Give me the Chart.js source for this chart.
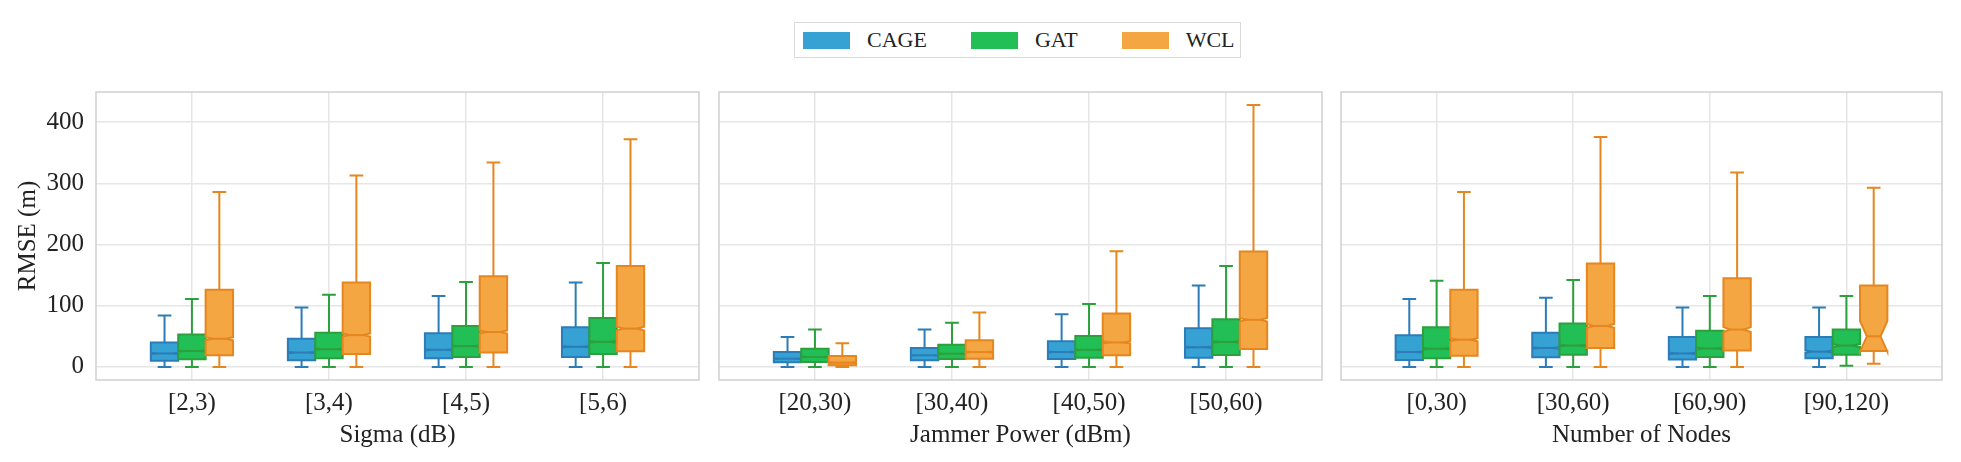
<!DOCTYPE html>
<html>
<head>
<meta charset="utf-8">
<script src="https://cdn.jsdelivr.net/npm/chart.js@4.4.1/dist/chart.umd.min.js"></script>
<style>
  body { margin: 0; background: #fff; width: 1961px; height: 462px; position: relative; overflow: hidden;
         font-family: "Liberation Serif", "Times New Roman", serif; color: #222; }
  canvas { position: absolute; top: 0; }
  #legend { position: absolute; left: 794px; top: 22px; height: 34px; border: 1.5px solid #d9d9d9;
            display: flex; align-items: center; padding: 0 5px 0 8px; background: #fff; }
  .item { display: flex; align-items: center; font-size: 22px; }
  .item + .item { margin-left: 44px; }
  .sw { width: 47px; height: 17px; margin-right: 17px; }
</style>
</head>
<body>
<div id="legend"></div>
<canvas id="c1" width="709" height="462" style="left:0;width:709px;height:462px"></canvas>
<canvas id="c2" width="623" height="462" style="left:709px;width:623px;height:462px"></canvas>
<canvas id="c3" width="630" height="462" style="left:1331px;width:630px;height:462px"></canvas>
<script>
const seriesNames = ['CAGE', 'GAT', 'WCL'];
const sigmaCats = ['[2,3)', '[3,4)', '[4,5)', '[5,6)'];
const jammerCats = ['[20,30)', '[30,40)', '[40,50)', '[50,60)'];
const nodeCats = ['[0,30)', '[30,60)', '[60,90)', '[90,120)'];
const yTicks = [0, 100, 200, 300, 400];

// each box: [whisker low, Q1, median, Q3, whisker high, notch half-height]
const cageSigma = [[0, 10, 22, 40, 84, 1], [0, 11, 23.5, 46, 97, 1], [0, 14, 28, 55, 116, 1], [0, 16, 33, 65, 138, 1.2]];
const gatSigma  = [[0, 12.6, 26, 53, 111, 1], [0, 14, 29, 56, 118, 1], [0, 16, 34, 67, 139, 1.2], [0, 21, 41, 80, 170, 1.5]];
const wclSigma  = [[0, 19, 46, 126, 286, 2.5], [0, 21, 52, 138, 313, 2.5], [0, 23.5, 57, 148, 334, 2.5], [0, 25.6, 62.6, 165, 372, 3]];

const cageJammer = [[0, 7.6, 13.5, 24.4, 49, 0.6], [0, 10.9, 19, 31, 61, 0.6], [0, 13, 24.4, 41.8, 86, 0.8], [0, 15, 32, 63, 133, 1.2]];
const gatJammer  = [[0, 8, 16.3, 29.8, 61, 0.6], [0, 13, 21.7, 36.4, 72, 0.6], [0, 15, 28, 50.5, 103, 1], [0, 19.5, 40.8, 78, 165, 1.5]];
const wclJammer  = [[0, 2.7, 7, 17.9, 38.5, 1.2], [0, 13.5, 24.4, 43.4, 89, 1], [0, 19, 40, 87.5, 189, 1.8], [0, 29.4, 77, 188.6, 428, 3]];

const cageNodes = [[0, 11.4, 24.4, 51.6, 111, 1], [0, 15.7, 31, 56, 113, 1.2], [0, 12, 22, 49, 97, 1.5], [0, 14, 25, 49, 97, 2]];
const gatNodes  = [[0, 14, 29.8, 65, 141, 1.2], [0, 20, 35, 71, 142, 1.5], [0, 16, 30, 59, 116, 2], [2, 20, 35, 61, 116, 2.5]];
const wclNodes  = [[0, 18.4, 44.5, 126, 286, 2.5], [0, 31, 67, 169, 376, 3], [0, 27, 61, 145, 318, 4], [5, 26, 50, 133, 293, 25]];

const fills = ['#36a2d4', '#22bf56', '#f4a642'];
const edges = ['#2b7cb8', '#2ca03c', '#e6861f'];
const offsets = [-0.2, 0, 0.2];

Chart.defaults.font.family = '"Liberation Serif", "Times New Roman", serif';
Chart.defaults.color = '#222';

// legend
const legend = document.getElementById('legend');
seriesNames.forEach((n, i) => {
  legend.innerHTML += `<div class="item"><div class="sw" style="background:${fills[i]}"></div>${n}</div>`;
});

const boxPlugin = {
  id: 'boxes',
  beforeDatasetsDraw(chart) {
    const a = chart.chartArea, ctx = chart.ctx;
    ctx.save();
    ctx.strokeStyle = '#cfcfcf';
    ctx.lineWidth = 1.5;
    ctx.strokeRect(a.left, a.top, a.right - a.left, a.bottom - a.top);
    ctx.restore();
  },
  afterDatasetsDraw(chart) {
    const ctx = chart.ctx, xs = chart.scales.x, ys = chart.scales.y;
    const half = xs.getPixelForValue(0.1) - xs.getPixelForValue(0);
    const py = v => ys.getPixelForValue(v);
    ctx.save();
    ctx.lineWidth = 2;
    chart.data.datasets.forEach((ds, d) => {
      const meta = chart.getDatasetMeta(d);
      ds.stats.forEach((s, i) => {
        const [lo, q1, med, q3, hi, nh] = s;
        const cx = meta.data[i].x;
        const L = cx - half, R = cx + half, cl = cx - half / 2, cr = cx + half / 2;
        ctx.strokeStyle = ds.edge;
        ctx.beginPath();
        ctx.moveTo(cx, py(q3)); ctx.lineTo(cx, py(hi));
        ctx.moveTo(cx, py(q1)); ctx.lineTo(cx, py(lo));
        ctx.moveTo(cl, py(hi)); ctx.lineTo(cr, py(hi));
        ctx.moveTo(cl, py(lo)); ctx.lineTo(cr, py(lo));
        ctx.stroke();
        ctx.beginPath();
        ctx.moveTo(L, py(q1)); ctx.lineTo(R, py(q1));
        ctx.lineTo(R, py(med - nh)); ctx.lineTo(cr, py(med)); ctx.lineTo(R, py(med + nh));
        ctx.lineTo(R, py(q3)); ctx.lineTo(L, py(q3));
        ctx.lineTo(L, py(med + nh)); ctx.lineTo(cl, py(med)); ctx.lineTo(L, py(med - nh));
        ctx.closePath();
        ctx.fillStyle = ds.backgroundColor;
        ctx.fill();
        ctx.stroke();
        ctx.beginPath();
        ctx.moveTo(cl, py(med)); ctx.lineTo(cr, py(med));
        ctx.stroke();
      });
    });
    ctx.restore();
  }
};

function makeChart(id, cats, groups, xTitle, first, padRight) {
  const datasets = groups.map((stats, k) => ({
    label: seriesNames[k],
    data: cats.map((c, i) => ({ x: i + offsets[k], y: stats[i][2] })),
    stats: stats,
    edge: edges[k],
    backgroundColor: fills[k],
    pointRadius: 0
  }));
  new Chart(document.getElementById(id), {
    type: 'scatter',
    data: { datasets },
    plugins: [boxPlugin],
    options: {
      responsive: false,
      animation: false,
      events: [],
      layout: { padding: { top: 92, left: first ? 0 : 10, right: padRight, bottom: 0 } },
      plugins: { legend: { display: false }, tooltip: { enabled: false } },
      scales: {
        x: {
          type: 'linear', min: -0.7, max: 3.7,
          afterBuildTicks: s => { s.ticks = cats.map((c, i) => ({ value: i })); },
          afterFit: s => { s.height = 82; },
          ticks: { callback: v => cats[Math.round(v)], font: { size: 25 }, padding: 8, maxRotation: 0 },
          grid: { color: '#e6e6e6', lineWidth: 1.5, drawTicks: false },
          border: { display: false },
          title: { display: true, text: xTitle, font: { size: 25 }, padding: { top: 0, bottom: 12 } }
        },
        y: {
          min: -21.4, max: 449.4,
          afterBuildTicks: s => { s.ticks = yTicks.map(v => ({ value: v })); },
          afterFit: s => { s.width = first ? 96 : 0; },
          ticks: { display: first, font: { size: 25 }, padding: 12 },
          grid: { color: '#e6e6e6', lineWidth: 1.5, drawTicks: false },
          border: { display: false },
          title: { display: first, text: 'RMSE (m)', font: { size: 25 }, padding: { top: 13, bottom: 0 } }
        }
      }
    }
  });
}

makeChart('c1', sigmaCats, [cageSigma, gatSigma, wclSigma], 'Sigma (dB)', true, 10);
makeChart('c2', jammerCats, [cageJammer, gatJammer, wclJammer], 'Jammer Power (dBm)', false, 10);
makeChart('c3', nodeCats, [cageNodes, gatNodes, wclNodes], 'Number of Nodes', false, 19);
</script>
</body>
</html>
